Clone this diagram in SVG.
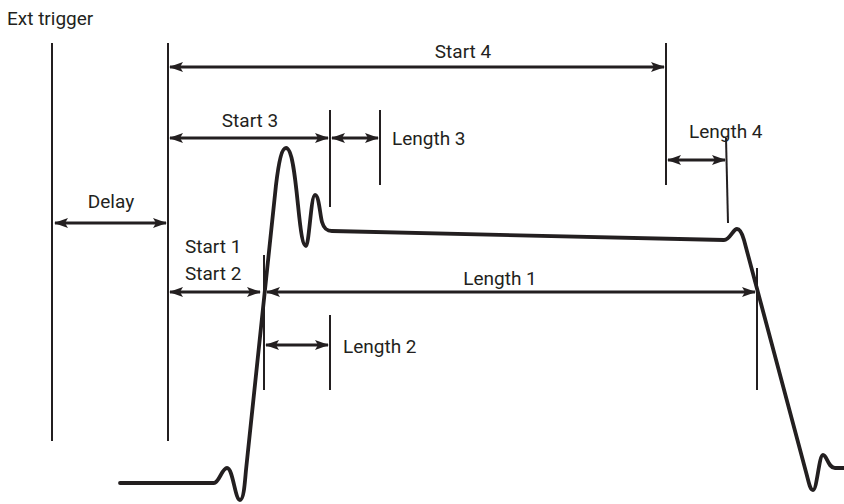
<svg xmlns="http://www.w3.org/2000/svg" width="844" height="504" viewBox="0 0 844 504">
  <style>
    .lbl { font-family: Roboto, "Liberation Sans", Arial, sans-serif; font-size: 19px; fill: #231f20; }
    .mid { text-anchor: middle; }
    .tick { stroke: #231f20; stroke-width: 2; fill: none; }
    .dim { stroke: #231f20; stroke-width: 3; fill: none; marker-start: url(#ah); marker-end: url(#ah); }
    .wave { stroke: #231f20; stroke-width: 3.8; fill: none; stroke-linejoin: round; stroke-linecap: round; }
  </style>
  <defs>
    <marker id="ah" viewBox="0 0 14 10" refX="13" refY="5" markerWidth="14" markerHeight="10" markerUnits="userSpaceOnUse" orient="auto-start-reverse">
      <path d="M0,0 L14,5 L0,10 L3,5 Z" fill="#231f20"/>
    </marker>
  </defs>
  <rect width="844" height="504" fill="#ffffff"/>

  <!-- reference marks -->
  <g id="ticks">
    <line class="tick" x1="52" y1="43" x2="52" y2="441"/>
    <line class="tick" x1="168" y1="43" x2="168" y2="441"/>
    <line class="tick" x1="666" y1="43" x2="666" y2="185"/>
    <line class="tick" x1="330" y1="110" x2="330" y2="207"/>
    <line class="tick" x1="380" y1="110" x2="380" y2="185"/>
    <line class="tick" x1="726" y1="138" x2="728" y2="223"/>
    <line class="tick" x1="264" y1="255" x2="264" y2="390"/>
    <line class="tick" x1="330" y1="315" x2="330" y2="390"/>
    <line class="tick" x1="757" y1="268" x2="757" y2="390"/>
  </g>

  <!-- signal envelope -->
  <g id="signal">
    <path class="wave" d="M120,483 L214,483 C219,483 222,468 227,468 C233,468 235,500 240,500 C244,500 245,480 246,470 L276,185 C279,160 282,148 286,148 C292,148 295,175 298,205 C301,235 303,246 306,246 C309,246 311,195 315,195 C319,195 320,215 322,222 C324,229 327,231 332,231 L724,240 C730,240 733,229 737,229 C740,229 742,233 744,240 L806,472 C809,483 810,490 813,490 C817,490 819,455 823,455 C827,455 828,468 835,468 L844,468"/>
  </g>

  <!-- dimension arrows -->
  <g id="connectors">
    <line class="dim" x1="170" y1="67" x2="664" y2="67"/>
    <line class="dim" x1="170" y1="138" x2="328" y2="138"/>
    <line class="dim" x1="332" y1="138" x2="378" y2="138"/>
    <line class="dim" x1="668" y1="160" x2="725" y2="160"/>
    <line class="dim" x1="55" y1="223" x2="166" y2="223"/>
    <line class="dim" x1="170" y1="292" x2="260" y2="292"/>
    <line class="dim" x1="267" y1="292" x2="755" y2="292"/>
    <line class="dim" x1="266" y1="345" x2="328" y2="345"/>
  </g>

  <!-- labels -->
  <g id="labels">
    <text class="lbl" x="7" y="25">Ext trigger</text>
    <text class="lbl mid" x="463" y="58">Start 4</text>
    <text class="lbl mid" x="250" y="127">Start 3</text>
    <text class="lbl" x="392" y="145">Length 3</text>
    <text class="lbl" x="689" y="138">Length 4</text>
    <text class="lbl mid" x="111" y="208">Delay</text>
    <text class="lbl" x="185" y="253">Start 1</text>
    <text class="lbl" x="185" y="280">Start 2</text>
    <text class="lbl mid" x="500" y="285">Length 1</text>
    <text class="lbl" x="343" y="353">Length 2</text>
  </g>
</svg>
